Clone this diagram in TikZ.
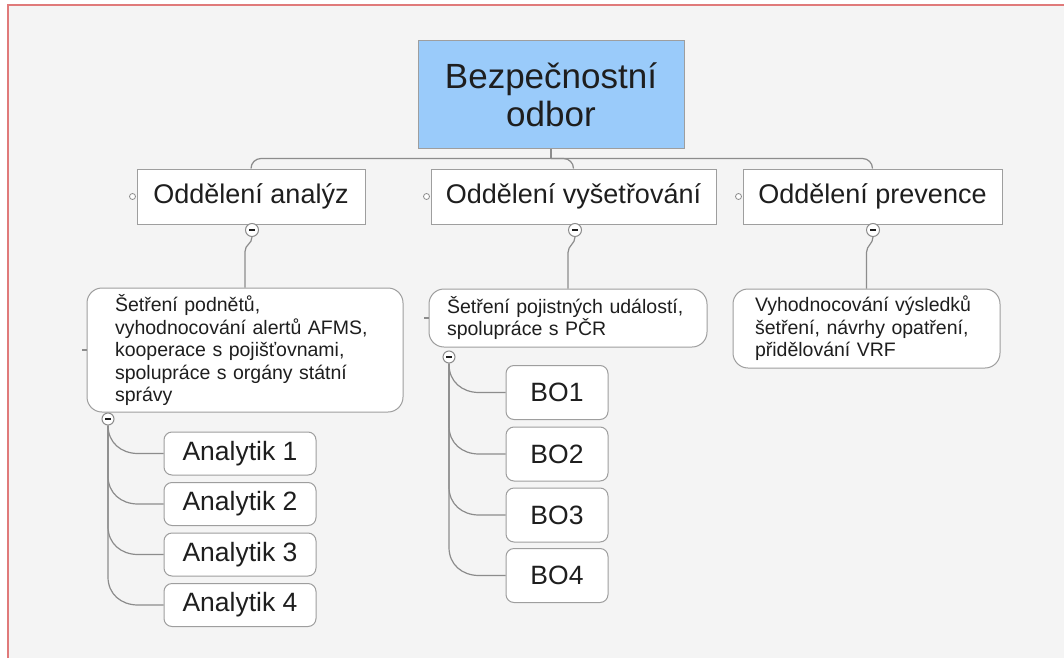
\documentclass[tikz,border=0pt]{standalone}
\usepackage{fontspec}
\setmainfont{Liberation Sans}
\usetikzlibrary{calc}

\definecolor{pagegrey}{HTML}{F4F4F4}
\definecolor{framered}{HTML}{E07A7A}
\definecolor{linegrey}{HTML}{8C8C8C}
\definecolor{boxgrey}{HTML}{9E9E9E}
\definecolor{titleblue}{HTML}{9ACBFA}
\definecolor{inkgrey}{HTML}{1E1E1E}

\tikzset{
	conn/.style={draw=linegrey, line width=1.2pt},
	topbox/.style={draw=boxgrey, line width=1pt, fill=titleblue, text=inkgrey, align=center, inner sep=0pt,
		font=\fontsize{35}{38}\selectfont},
	deptbox/.style={draw=boxgrey, line width=1pt, fill=white, text=inkgrey, inner sep=0pt,
		font=\fontsize{27}{30}\selectfont},
	descbox/.style={draw=boxgrey, line width=1pt, fill=white, text=inkgrey, rounded corners=15pt, align=left,
		inner ysep=0pt, font=\fontsize{19.5}{22.5}\selectfont},
	leafbox/.style={draw=boxgrey, line width=1pt, fill=white, text=inkgrey, rounded corners=8pt, inner sep=0pt,
		font=\fontsize{26.5}{29}\selectfont},
	knob/.style={circle, draw=linegrey, line width=0.8pt, fill=white, minimum size=6pt, inner sep=0pt},
	colbtn/.style={circle, draw=linegrey, line width=1pt, fill=white, minimum size=13pt, inner sep=0pt,
		path picture={\draw[inkgrey, line width=1.6pt] ([xshift=-3pt]path picture bounding box.center) -- ([xshift=3pt]path picture bounding box.center);}}
}

\begin{document}
\begin{tikzpicture}[x=1pt, y=-1pt]
	\useasboundingbox (0,0) rectangle (1064,658);

	% background and frame
	\fill[white] (0,0) rectangle (1064,658);
	\fill[pagegrey] (8,5) rectangle (1064,658);
	\draw[framered, line width=1.4pt] (8,658) -- (8,5) -- (1064,5);

	% head
	\node[topbox, minimum width=266pt, minimum height=107pt] (head) at (551,94.5) {Bezpečnostní\\odbor};

	% departments
	\node[deptbox, minimum width=228pt, minimum height=55pt] (analyzy) at (251,196.5) {Oddělení analýz};
	\node[deptbox, minimum width=285pt, minimum height=55pt] (setreni) at (573.5,196.5) {Oddělení vyšetřování};
	\node[deptbox, minimum width=259pt, minimum height=55pt] (prevence) at (872.5,196.5) {Oddělení prevence};

	\node[knob] (knobA) at ($(analyzy.west)+(-4,0)$) {};
	\node[knob] (knobS) at ($(setreni.west)+(-4,0)$) {};
	\node[knob] (knobP) at ($(prevence.west)+(-4,0)$) {};

	\coordinate (bar) at ($(head.south)+(0,10)$);
	\draw[conn] (head.south) -- (bar);
	\draw[conn, rounded corners=10pt] (bar) -| (analyzy.north);
	\draw[conn, rounded corners=10pt] (bar) -| (setreni.north);
	\draw[conn, rounded corners=10pt] (bar) -| (prevence.north);

	% descriptions
	\node[descbox, inner xsep=28pt, text width=260pt, minimum height=124pt] (descA) at (245,350)
		{Šetření podnětů,\\vyhodnocování alertů AFMS,\\kooperace s pojišťovnami,\\spolupráce s orgány státní\\správy};
	\node[descbox, inner xsep=18pt, text width=242pt, minimum height=58pt] (descS) at (568,318)
		{Šetření pojistných událostí,\\spolupráce s PČR};
	\node[descbox, inner xsep=22pt, text width=223pt, minimum height=79pt] (descP) at (866.5,328.5)
		{Vyhodnocování výsledků\\šetření, návrhy opatření,\\přidělování VRF};

	\draw[conn] (descA.west) -- ++(-5,0) coordinate (stubA);
	\draw[conn] (descS.west) -- ++(-5,0) coordinate (stubS);

	\node[colbtn] (colA) at (252,230) {};
	\node[colbtn] (colS) at (575,230) {};
	\node[colbtn] (colP) at (873,230) {};

	\draw[conn] (colA.south) .. controls +(0,7) and +(0,-7) .. ($(descA.north)+(0,-36)$) -- (descA.north);
	\draw[conn] (colS.south) .. controls +(0,7) and +(0,-7) .. ($(descS.north)+(0,-36)$) -- (descS.north);
	\draw[conn] (colP.south) .. controls +(0,7) and +(0,-7) .. ($(descP.north)+(0,-36)$) -- (descP.north);

	% analysts
	\foreach \i/\y in {1/453.5,2/504,3/554.5,4/605}
		\node[leafbox, minimum width=152pt, minimum height=43pt] (an\i) at (240,\y) {Analytik \i};

	% investigators
	\foreach \i/\y in {1/392.5,2/454,3/515,4/575.5}
		\node[leafbox, minimum width=102pt, minimum height=54pt] (bo\i) at (557,\y) {BO\i};

	\node[colbtn, minimum size=12pt] (colAn) at (108,419) {};
	\node[colbtn, minimum size=12pt] (colBo) at (449,357) {};

	\foreach \i in {1,...,4}
		\draw[conn] (colAn.south) -- ($(colAn.south |- an\i.west)+(0,-28)$)
			.. controls +(0,17) and +(-17,0) .. ($(colAn.south |- an\i.west)+(30,0)$) -- (an\i.west);
	\foreach \i in {1,...,4}
		\draw[conn] (colBo.south) -- ($(colBo.south |- bo\i.west)+(0,-28)$)
			.. controls +(0,17) and +(-17,0) .. ($(colBo.south |- bo\i.west)+(30,0)$) -- (bo\i.west);
\end{tikzpicture}
\end{document}
